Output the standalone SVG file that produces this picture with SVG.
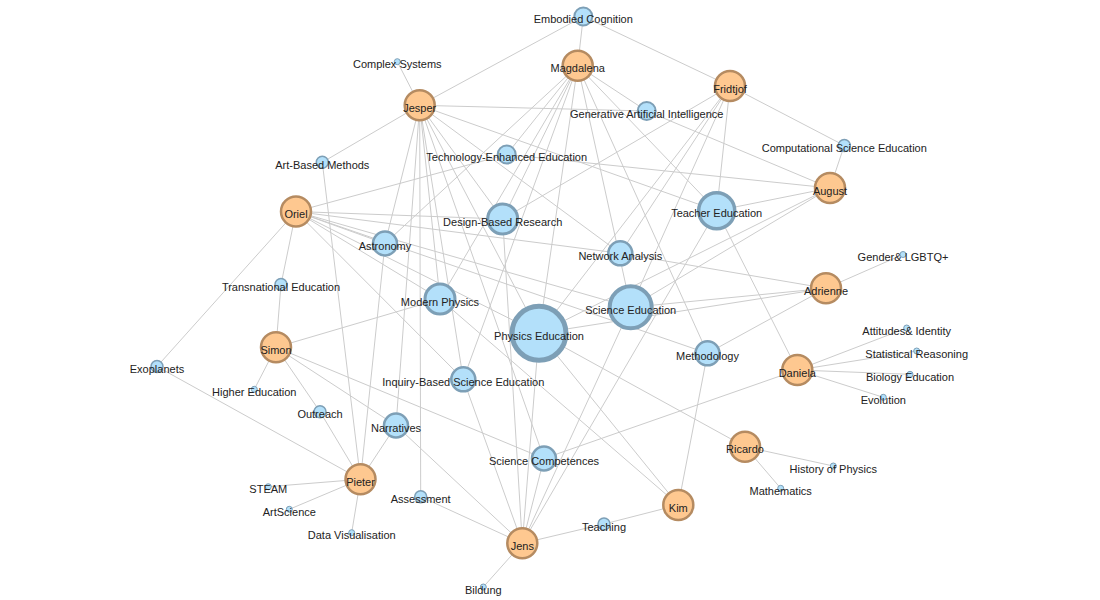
<svg xmlns="http://www.w3.org/2000/svg" width="1100" height="600" viewBox="0 0 1100 600">
<style>
.edges line{stroke:#cccccc;stroke-width:1}
.p{fill:#fec890;stroke:#b58b61;stroke-width:2.5}
.t{fill:#b3e0fa;stroke:#7d9fb6}
text{font-family:"Liberation Sans",Arial,sans-serif;font-size:11px;fill:#222;text-anchor:middle}
</style>
<rect width="1100" height="600" fill="#fff"/>
<g id="connectors" class="edges">
<!-- Jesper -->
<line x1="419.7" y1="105.3" x2="397.3" y2="61.7"/>
<line x1="419.7" y1="105.3" x2="583.3" y2="16.5"/>
<line x1="419.7" y1="105.3" x2="322.3" y2="162.3"/>
<line x1="419.7" y1="105.3" x2="646.7" y2="111"/>
<line x1="419.7" y1="105.3" x2="716.7" y2="210.7"/>
<line x1="419.7" y1="105.3" x2="385" y2="243.5"/>
<line x1="419.7" y1="105.3" x2="396" y2="425.5"/>
<line x1="419.7" y1="105.3" x2="420.7" y2="496.7"/>
<line x1="419.7" y1="105.3" x2="440" y2="299"/>
<line x1="419.7" y1="105.3" x2="463.3" y2="379.3"/>
<line x1="419.7" y1="105.3" x2="544" y2="458.5"/>
<line x1="419.7" y1="105.3" x2="502.7" y2="219"/>
<line x1="419.7" y1="105.3" x2="539" y2="333.3"/>
<line x1="419.7" y1="105.3" x2="620.3" y2="253.3"/>
<!-- Magdalena -->
<line x1="577.7" y1="65.7" x2="583.3" y2="16.5"/>
<line x1="577.7" y1="65.7" x2="646.7" y2="111"/>
<line x1="577.7" y1="65.7" x2="506.7" y2="154.5"/>
<line x1="577.7" y1="65.7" x2="502.7" y2="219"/>
<line x1="577.7" y1="65.7" x2="440" y2="299"/>
<line x1="577.7" y1="65.7" x2="385" y2="243.5"/>
<line x1="577.7" y1="65.7" x2="463.3" y2="379.3"/>
<line x1="577.7" y1="65.7" x2="539" y2="333.3"/>
<line x1="577.7" y1="65.7" x2="630.7" y2="307.3"/>
<line x1="577.7" y1="65.7" x2="707.5" y2="353.3"/>
<line x1="577.7" y1="65.7" x2="716.7" y2="210.7"/>
<!-- Fridtjof -->
<line x1="730" y1="86" x2="583.3" y2="16.5"/>
<line x1="730" y1="86" x2="844.3" y2="145.5"/>
<line x1="730" y1="86" x2="502.7" y2="219"/>
<line x1="730" y1="86" x2="716.7" y2="210.7"/>
<line x1="730" y1="86" x2="620.3" y2="253.3"/>
<line x1="730" y1="86" x2="539" y2="333.3"/>
<line x1="730" y1="86" x2="630.7" y2="307.3"/>
<!-- August -->
<line x1="830" y1="188" x2="844.3" y2="145.5"/>
<line x1="830" y1="188" x2="506.7" y2="154.5"/>
<line x1="830" y1="188" x2="646.7" y2="111"/>
<line x1="830" y1="188" x2="716.7" y2="210.7"/>
<line x1="830" y1="188" x2="630.7" y2="307.3"/>
<line x1="830" y1="188" x2="539" y2="333.3"/>
<!-- Oriel -->
<line x1="296" y1="211.5" x2="506.7" y2="154.5"/>
<line x1="296" y1="211.5" x2="281" y2="284.5"/>
<line x1="296" y1="211.5" x2="157" y2="366.5"/>
<line x1="296" y1="211.5" x2="502.7" y2="219"/>
<line x1="296" y1="211.5" x2="620.3" y2="253.3"/>
<line x1="296" y1="211.5" x2="630.7" y2="307.3"/>
<line x1="296" y1="211.5" x2="707.5" y2="353.3"/>
<line x1="296" y1="211.5" x2="385" y2="243.5"/>
<line x1="296" y1="211.5" x2="539" y2="333.3"/>
<line x1="296" y1="211.5" x2="440" y2="299"/>
<line x1="296" y1="211.5" x2="463.3" y2="379.3"/>
<!-- Adrienne -->
<line x1="826" y1="288.3" x2="903" y2="254.5"/>
<line x1="826" y1="288.3" x2="620.3" y2="253.3"/>
<line x1="826" y1="288.3" x2="630.7" y2="307.3"/>
<line x1="826" y1="288.3" x2="539" y2="333.3"/>
<line x1="826" y1="288.3" x2="707.5" y2="353.3"/>
<!-- Simon -->
<line x1="276" y1="347.3" x2="281" y2="284.5"/>
<line x1="276" y1="347.3" x2="254.3" y2="389.3"/>
<line x1="276" y1="347.3" x2="440" y2="299"/>
<line x1="276" y1="347.3" x2="544" y2="458.5"/>
<line x1="276" y1="347.3" x2="320" y2="411.7"/>
<line x1="276" y1="347.3" x2="396" y2="425.5"/>
<!-- Daniela -->
<line x1="797.3" y1="370" x2="906.7" y2="328"/>
<line x1="797.3" y1="370" x2="916.7" y2="351"/>
<line x1="797.3" y1="370" x2="910" y2="374.3"/>
<line x1="797.3" y1="370" x2="883.3" y2="397.3"/>
<line x1="797.3" y1="370" x2="716.7" y2="210.7"/>
<line x1="797.3" y1="370" x2="544" y2="458.5"/>
<!-- Ricardo -->
<line x1="745" y1="446.7" x2="833.3" y2="466"/>
<line x1="745" y1="446.7" x2="780.7" y2="488.3"/>
<line x1="745" y1="446.7" x2="539" y2="333.3"/>
<!-- Pieter -->
<line x1="360.5" y1="479.3" x2="268.3" y2="486.7"/>
<line x1="360.5" y1="479.3" x2="289.3" y2="509.3"/>
<line x1="360.5" y1="479.3" x2="351.7" y2="532.7"/>
<line x1="360.5" y1="479.3" x2="157" y2="366.5"/>
<line x1="360.5" y1="479.3" x2="320" y2="411.7"/>
<line x1="360.5" y1="479.3" x2="322.3" y2="162.3"/>
<line x1="360.5" y1="479.3" x2="385" y2="243.5"/>
<line x1="360.5" y1="479.3" x2="396" y2="425.5"/>
<!-- Kim -->
<line x1="678.3" y1="505" x2="539" y2="333.3"/>
<line x1="678.3" y1="505" x2="440" y2="299"/>
<line x1="678.3" y1="505" x2="707.5" y2="353.3"/>
<line x1="678.3" y1="505" x2="604" y2="524"/>
<!-- Jens -->
<line x1="522.3" y1="543.3" x2="483.3" y2="587"/>
<line x1="522.3" y1="543.3" x2="604" y2="524"/>
<line x1="522.3" y1="543.3" x2="420.7" y2="496.7"/>
<line x1="522.3" y1="543.3" x2="396" y2="425.5"/>
<line x1="522.3" y1="543.3" x2="463.3" y2="379.3"/>
<line x1="522.3" y1="543.3" x2="502.7" y2="219"/>
<line x1="522.3" y1="543.3" x2="539" y2="333.3"/>
<line x1="522.3" y1="543.3" x2="544" y2="458.5"/>
<line x1="522.3" y1="543.3" x2="630.7" y2="307.3"/>
<line x1="522.3" y1="543.3" x2="716.7" y2="210.7"/>
</g>
<g id="nodes">
<g id="n-physics-education"><circle class="t" cx="539" cy="333.3" r="27" stroke-width="5"/><text x="539" y="339.8">Physics Education</text></g>
<g id="n-science-education"><circle class="t" cx="630.7" cy="307.3" r="21" stroke-width="4"/><text x="630.7" y="313.8">Science Education</text></g>
<g id="n-teacher-education"><circle class="t" cx="716.7" cy="210.7" r="18" stroke-width="3.5"/><text x="716.7" y="217.2">Teacher Education</text></g>
<g id="n-design-based-research"><circle class="t" cx="502.7" cy="219" r="15" stroke-width="3"/><text x="502.7" y="225.5">Design-Based Research</text></g>
<g id="n-modern-physics"><circle class="t" cx="440" cy="299" r="15" stroke-width="3"/><text x="440" y="305.5">Modern Physics</text></g>
<g id="n-astronomy"><circle class="t" cx="385" cy="243.5" r="12" stroke-width="2.5"/><text x="385" y="250">Astronomy</text></g>
<g id="n-network-analysis"><circle class="t" cx="620.3" cy="253.3" r="12" stroke-width="2.5"/><text x="620.3" y="259.8">Network Analysis</text></g>
<g id="n-methodology"><circle class="t" cx="707.5" cy="353.3" r="12" stroke-width="2.5"/><text x="707.5" y="359.8">Methodology</text></g>
<g id="n-inquiry"><circle class="t" cx="463.3" cy="379.3" r="12" stroke-width="2.5"/><text x="463.3" y="385.8">Inquiry-Based Science Education</text></g>
<g id="n-narratives"><circle class="t" cx="396" cy="425.5" r="12" stroke-width="2.5"/><text x="396" y="432">Narratives</text></g>
<g id="n-science-competences"><circle class="t" cx="544" cy="458.5" r="12" stroke-width="2.5"/><text x="544" y="465">Science Competences</text></g>
<g id="n-embodied-cognition"><circle class="t" cx="583.3" cy="16.5" r="9" stroke-width="2"/><text x="583.3" y="23">Embodied Cognition</text></g>
<g id="n-generative-ai"><circle class="t" cx="646.7" cy="111" r="9" stroke-width="2"/><text x="646.7" y="117.5">Generative Artificial Intelligence</text></g>
<g id="n-technology-enhanced"><circle class="t" cx="506.7" cy="154.5" r="9" stroke-width="2"/><text x="506.7" y="161">Technology-Enhanced Education</text></g>
<g id="n-art-based"><circle class="t" cx="322.3" cy="162.3" r="6" stroke-width="1.5"/><text x="322.3" y="168.8">Art-Based Methods</text></g>
<g id="n-computational"><circle class="t" cx="844.3" cy="145.5" r="6" stroke-width="1.5"/><text x="844.3" y="152">Computational Science Education</text></g>
<g id="n-transnational"><circle class="t" cx="281" cy="284.5" r="6" stroke-width="1.5"/><text x="281" y="291">Transnational Education</text></g>
<g id="n-exoplanets"><circle class="t" cx="157" cy="366.5" r="6" stroke-width="1.5"/><text x="157" y="373">Exoplanets</text></g>
<g id="n-outreach"><circle class="t" cx="320" cy="411.7" r="6" stroke-width="1.5"/><text x="320" y="418.2">Outreach</text></g>
<g id="n-assessment"><circle class="t" cx="420.7" cy="496.7" r="6" stroke-width="1.5"/><text x="420.7" y="503.2">Assessment</text></g>
<g id="n-teaching"><circle class="t" cx="604" cy="524" r="6" stroke-width="1.5"/><text x="604" y="530.5">Teaching</text></g>
<g id="n-complex-systems"><circle class="t" cx="397.3" cy="61.7" r="3" stroke-width="1"/><text x="397.3" y="68.2">Complex Systems</text></g>
<g id="n-gender"><circle class="t" cx="903" cy="254.5" r="3" stroke-width="1"/><text x="903" y="261">Gender&amp; LGBTQ+</text></g>
<g id="n-attitudes"><circle class="t" cx="906.7" cy="328" r="3" stroke-width="1"/><text x="906.7" y="334.5">Attitudes&amp; Identity</text></g>
<g id="n-statistical"><circle class="t" cx="916.7" cy="351" r="3" stroke-width="1"/><text x="916.7" y="357.5">Statistical Reasoning</text></g>
<g id="n-biology"><circle class="t" cx="910" cy="374.3" r="3" stroke-width="1"/><text x="910" y="380.8">Biology Education</text></g>
<g id="n-evolution"><circle class="t" cx="883.3" cy="397.3" r="3" stroke-width="1"/><text x="883.3" y="403.8">Evolution</text></g>
<g id="n-higher-education"><circle class="t" cx="254.3" cy="389.3" r="3" stroke-width="1"/><text x="254.3" y="395.8">Higher Education</text></g>
<g id="n-history-physics"><circle class="t" cx="833.3" cy="466" r="3" stroke-width="1"/><text x="833.3" y="472.5">History of Physics</text></g>
<g id="n-steam"><circle class="t" cx="268.3" cy="486.7" r="3" stroke-width="1"/><text x="268.3" y="493.2">STEAM</text></g>
<g id="n-mathematics"><circle class="t" cx="780.7" cy="488.3" r="3" stroke-width="1"/><text x="780.7" y="494.8">Mathematics</text></g>
<g id="n-artscience"><circle class="t" cx="289.3" cy="509.3" r="3" stroke-width="1"/><text x="289.3" y="515.8">ArtScience</text></g>
<g id="n-data-vis"><circle class="t" cx="351.7" cy="532.7" r="3" stroke-width="1"/><text x="351.7" y="539.2">Data Visualisation</text></g>
<g id="n-bildung"><circle class="t" cx="483.3" cy="587" r="3" stroke-width="1"/><text x="483.3" y="593.5">Bildung</text></g>
<g id="n-magdalena"><circle class="p" cx="577.7" cy="65.7" r="15"/><text x="577.7" y="72.2">Magdalena</text></g>
<g id="n-fridtjof"><circle class="p" cx="730" cy="86" r="15"/><text x="730" y="92.5">Fridtjof</text></g>
<g id="n-jesper"><circle class="p" cx="419.7" cy="105.3" r="15"/><text x="419.7" y="111.8">Jesper</text></g>
<g id="n-august"><circle class="p" cx="830" cy="188" r="15"/><text x="830" y="194.5">August</text></g>
<g id="n-oriel"><circle class="p" cx="296" cy="211.5" r="15"/><text x="296" y="218">Oriel</text></g>
<g id="n-adrienne"><circle class="p" cx="826" cy="288.3" r="15"/><text x="826" y="294.8">Adrienne</text></g>
<g id="n-simon"><circle class="p" cx="276" cy="347.3" r="15"/><text x="276" y="353.8">Simon</text></g>
<g id="n-daniela"><circle class="p" cx="797.3" cy="370" r="15"/><text x="797.3" y="376.5">Daniela</text></g>
<g id="n-ricardo"><circle class="p" cx="745" cy="446.7" r="15"/><text x="745" y="453.2">Ricardo</text></g>
<g id="n-pieter"><circle class="p" cx="360.5" cy="479.3" r="15"/><text x="360.5" y="485.8">Pieter</text></g>
<g id="n-kim"><circle class="p" cx="678.3" cy="505" r="15"/><text x="678.3" y="511.5">Kim</text></g>
<g id="n-jens"><circle class="p" cx="522.3" cy="543.3" r="15"/><text x="522.3" y="549.8">Jens</text></g>
</g>
</svg>
